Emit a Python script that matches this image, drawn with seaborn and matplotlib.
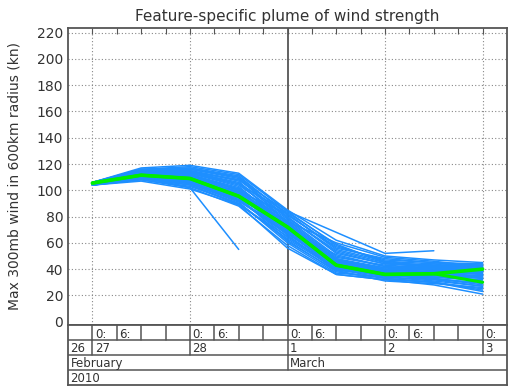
import numpy as np
import pandas as pd
import seaborn as sns
import matplotlib.pyplot as plt

# hours after 27 Feb 2010 00:00
hours = [0, 12, 24, 36, 48, 60, 72, 84, 96]

nan = np.nan
members = [
    [105, 113, 114, 108, 80, 52, 44, 42, 38],
    [106, 116, 118, 112, 84, 58, 46, 44, 43],
    [104, 110, 106, 92, 68, 40, 35, 34, 32],
    [105, 112, 110, 97, 74, 45, 38, 37, 40],
    [106, 114, 112, 100, 70, 42, 36, 33, 28],
    [105, 109, 104, 90, 62, 38, 33, 30, 24],
    [104, 108, 102, 88, 58, 36, 32, 28, 21],
    [106, 115, 116, 110, 82, 56, 48, 45, 44],
    [105, 111, 108, 94, 72, 46, 40, 38, 36],
    [105, 113, 111, 98, 76, 48, 38, 36, 34],
    [104, 107, 101, 89, 65, 41, 34, 32, 30],
    [106, 117, 119, 113, 85, 62, 50, 47, 45],
    [105, 112, 109, 96, 70, 44, 37, 39, 41],
    [105, 110, 107, 93, 66, 39, 31, 29, 26],
    [106, 114, 113, 104, 78, 50, 42, 40, 42],
    [104, 109, 105, 91, 60, 37, 34, 31, 27],
    [105, 112, 112, 102, 75, 47, 41, 44, 39],
    [105, 110, 102, 55, nan, nan, nan, nan, nan],
    [105, 113, 115, 108, 84, 68, 52, 54, nan],
    [106, 115, 114, 106, 79, 54, 45, 43, 37],
    [105, 110, 106, 95, 69, 43, 35, 35, 33],
    [104, 108, 103, 90, 63, 40, 33, 30, 25],
    [105, 112, 110, 99, 73, 46, 39, 41, 43],
    [106, 116, 117, 111, 81, 57, 47, 45, 41],
    [105, 111, 107, 92, 67, 42, 36, 34, 31],
    [105, 113, 112, 101, 77, 49, 43, 41, 38],
    [104, 109, 104, 89, 56, 36, 32, 30, 23],
    [106, 114, 115, 107, 71, 44, 38, 36, 35],
    [105, 112, 111, 100, 74, 47, 40, 42, 44],
    [105, 110, 106, 94, 64, 41, 35, 33, 29],
    [106, 115, 113, 103, 72, 45, 39, 40, 37],
    [104, 111, 109, 97, 69, 51, 42, 39, 36],
    [105, 114, 116, 109, 79, 53, 44, 43, 40],
    [106, 112, 108, 95, 61, 39, 36, 35, 34],
    [105, 116, 114, 105, 76, 60, 49, 46, 42],
    [104, 109, 107, 96, 67, 43, 37, 36, 38],
    [105, 113, 110, 99, 82, 55, 46, 42, 39],
    [106, 111, 105, 92, 70, 48, 41, 37, 33],
    [105, 115, 117, 110, 75, 46, 39, 38, 41],
    [104, 110, 108, 98, 73, 44, 36, 32, 27],
    [105, 112, 113, 105, 83, 59, 45, 41, 36],
    [106, 114, 111, 101, 68, 42, 38, 37, 35],
]
mean_line = [105.5, 111.5, 109, 95.5, 72, 43, 36, 36.5, 40]
mean_line2 = [105.5, 111.5, 109, 95.5, 72, 43, 36, 36.5, 30]

yticks = list(range(0, 221, 20))
day_ticks = [0, 24, 48, 72, 96]
day_labels = ["27", "28", "1", "2", "3"]
months = [(-6, "February"), (48, "March")]
year_label = "2010"

rows = []
for i, m in enumerate(members):
    for h, v in zip(hours, m):
        if not np.isnan(v):
            rows.append({"member": i, "hour": h, "wind": v})
df = pd.DataFrame(rows)

sns.set_style("white")
fig = plt.figure(figsize=(5.25, 3.9), dpi=100)
ax = fig.add_axes([68/525, 65/390, 439/525, 297/390])

grid_kw = dict(color="#888888", lw=0.8, ls=(0, (1, 2)), zorder=0)
for y in yticks[1:]:
    ax.axhline(y, **grid_kw)
for h in [0, 24, 72, 96]:
    ax.axvline(h, **grid_kw)
ax.axvline(48, color="#555555", lw=1.3, zorder=0)

sns.lineplot(data=df, x="hour", y="wind", units="member", estimator=None,
             color="#1e8fff", lw=1.1, ax=ax, legend=False)
sns.lineplot(x=hours, y=mean_line2, color="#00ee00", lw=2.2, ax=ax)
sns.lineplot(x=hours, y=mean_line, color="#00ee00", lw=2.6, ax=ax)

ax.set_xlim(-6, 102)
ax.set_ylim(-2.5, 223.5)
ax.set_yticks(yticks)
ax.set_xticks(range(0, 97, 6))
ax.tick_params(axis="y", direction="in", length=4, labelsize=10, colors="#555555", labelcolor="#333333")
ax.tick_params(axis="x", direction="in", length=4, top=True, bottom=False,
               labelbottom=False, colors="#555555")
ax.set_xlabel("")
ax.set_ylabel("Max 300mb wind in 600km radius (kn)", fontsize=10, color="#333333")
ax.yaxis.set_label_coords(-47/439, 0.5)
ax.set_title("Feature-specific plume of wind strength", fontsize=11, color="#333333", pad=5)
for s in ax.spines.values():
    s.set_color("#555555")
    s.set_linewidth(1.3)

# date table under the plot
tab = fig.add_axes([68/525, 5/390, 439/525, 60/390])
tab.set_xlim(-6, 102)
tab.set_ylim(0, 4)
tab.set_xticks([])
tab.set_yticks([])
for s in tab.spines.values():
    s.set_color("#555555")
    s.set_linewidth(1.3)
line_kw = dict(color="#555555", lw=1.1)
for y in [1, 2, 3]:
    tab.axhline(y, **line_kw)
for h in range(0, 97, 6):
    tab.plot([h, h], [3, 4], **line_kw)
for h in day_ticks:
    tab.plot([h, h], [2, 3], **line_kw)
tab.plot([48, 48], [1, 2], **line_kw)

txt = dict(fontsize=8.5, color="#333333", va="center", ha="left")
for h in day_ticks:
    tab.text(h + 0.6, 3.4, "0:", **txt)
    if h < 96:
        tab.text(h + 6.6, 3.4, "6:", **txt)
tab.text(-5.4, 2.42, "26", **txt)
for h, lab in zip(day_ticks, day_labels):
    tab.text(h + 0.6, 2.42, lab, **txt)
for h, lab in months:
    tab.text(h + 0.6, 1.42, lab, **txt)
tab.text(-5.4, 0.42, year_label, **txt)

fig.savefig("out.png", dpi=100)
